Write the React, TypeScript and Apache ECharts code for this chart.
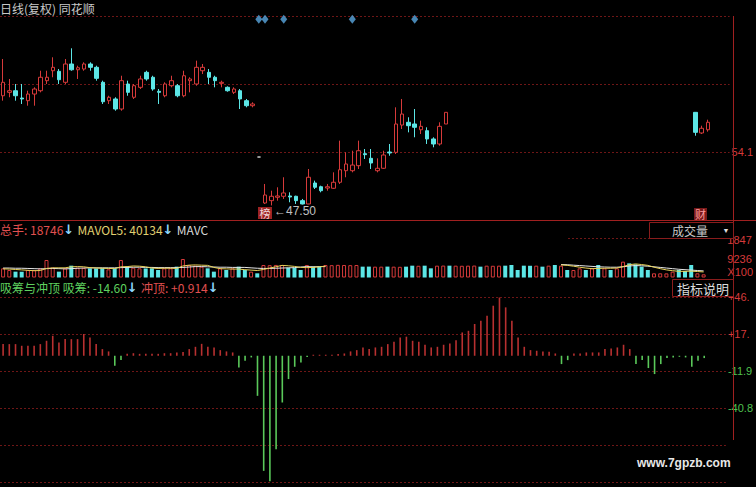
import React, { useEffect, useRef } from 'react';
import * as echarts from 'echarts';

// ---- data ----
const dayLabels: string[] = Array.from({ length: 117 }, (_, i) => 'D' + (i + 1));

// [open, close, low, high]; null = not drawn in the picture
const candles: (number[] | null)[] = [
  [61.05, 62.71, 60.44, 65.59], [61.47, 61.67, 60.86, 63.12], [61.67, 61.05, 60.44, 62.50], [60.77, 60.65, 60.03, 62.50],
  [60.44, 61.26, 59.82, 61.67], [61.26, 61.88, 59.82, 62.09], [61.67, 63.33, 61.47, 64.14], [62.91, 63.33, 62.50, 64.14],
  [64.14, 64.56, 63.33, 65.80], [64.07, 63.03, 62.50, 64.35], [62.71, 64.97, 62.50, 65.59], [64.97, 64.26, 64.14, 66.91],
  [64.26, 64.51, 63.12, 64.76], [64.35, 64.97, 64.14, 65.18], [64.97, 64.56, 64.14, 65.18], [64.56, 63.20, 62.91, 64.76],
  [62.71, 60.31, 60.03, 62.91], [60.44, 60.86, 60.03, 61.05], [60.65, 59.41, 59.20, 60.86], [59.41, 62.91, 59.20, 63.52],
  [62.50, 61.47, 61.05, 62.91], [60.86, 62.29, 60.65, 62.50], [62.09, 63.12, 61.88, 63.52], [63.94, 63.12, 62.91, 64.14],
  [63.33, 61.88, 61.67, 63.52], [61.60, 61.47, 60.03, 61.88], [61.05, 62.50, 60.86, 62.71], [62.29, 62.91, 62.09, 63.52],
  [62.29, 61.05, 60.86, 62.50], [61.05, 63.52, 60.86, 64.14], [62.91, 63.12, 61.47, 63.33], [62.50, 64.56, 62.29, 65.38],
  [64.14, 64.56, 63.73, 64.97], [63.94, 63.33, 62.50, 64.35], [63.33, 62.91, 62.09, 63.52], [62.58, 62.71, 62.09, 62.91],
  [62.09, 61.67, 61.55, 62.21], [61.47, 61.88, 61.26, 62.09], [61.67, 60.65, 59.41, 61.88], [60.44, 59.82, 59.62, 60.65],
  [59.82, 60.03, 59.62, 60.24], [53.48, 53.48, 53.48, 53.48], [47.80, 48.79, 47.68, 50.15], [48.09, 48.63, 47.50, 49.32],
  [48.51, 48.67, 48.09, 49.74], [48.63, 49.04, 48.30, 50.98], [48.67, 48.54, 47.89, 49.12], [48.63, 48.09, 47.68, 48.70],
  [48.09, 47.68, 47.62, 48.30], [47.68, 50.98, 47.65, 52.00], [50.27, 49.74, 49.53, 50.56], [49.81, 49.32, 49.12, 49.94],
  [49.65, 49.81, 49.32, 50.15], [49.62, 50.36, 49.53, 51.59], [50.36, 51.91, 50.15, 55.50], [51.79, 52.62, 50.98, 54.06],
  [51.79, 52.49, 51.59, 54.26], [52.41, 54.26, 52.00, 55.50], [53.89, 53.77, 53.24, 54.47], [53.32, 52.74, 52.00, 54.47],
  [51.79, 52.09, 51.59, 53.32], [52.09, 53.73, 52.00, 54.26], [54.10, 53.98, 53.64, 55.09], [54.06, 57.56, 53.85, 59.62],
  [57.43, 58.79, 56.94, 60.65], [57.77, 57.35, 56.53, 58.39], [57.56, 57.15, 55.92, 59.41], [56.85, 57.27, 56.32, 57.97],
  [56.73, 55.71, 55.09, 57.15], [55.71, 55.09, 54.68, 55.92], [55.09, 57.27, 54.88, 57.77], [57.56, 59.00, 57.56, 59.00],
  null, null, null, null, null, null, null, null, null, null,
  null, null, null, null, null, null, null, null, null, null,
  null, null, null, null, null, null, null, null, null, null,
  null, null, null, null, null, null, null, null, null,
  [59.00, 56.53, 56.11, 59.00], [56.45, 57.03, 56.32, 57.35], [56.85, 57.77, 56.61, 58.09],
];

const signalDays: number[] = [41, 42, 45, 56, 66];
const signalLevel = 70.5;

// volume (x100) and direction: 'u' = up (hollow red), 'd' = down (cyan)
const volume: number[] = [
  4460, 3650, 2840, 2800, 3650, 3600, 4460, 8510, 4780, 2840, 4460, 5750, 4780, 4700, 4460, 4400, 4500, 3970, 4460, 8510,
  5270, 4780, 4460, 4400, 4460, 3650, 4460, 4500, 5270, 8990, 6080, 5750, 5270, 4460, 2840, 4460, 3650, 4460, 5270, 3650,
  2840, 2030, 6080, 6000, 6100, 6080, 4780, 4700, 3650, 6080, 5270, 5200, 6080, 6000, 6150, 6080, 6000, 6080, 5270, 5300,
  5270, 5270, 5300, 5270, 5200, 5270, 5750, 5700, 5750, 4460, 5750, 5800, 5750, 5750, 5700, 5750, 5800, 5270, 5750, 5700,
  5750, 5750, 6080, 3650, 5750, 5700, 5750, 5270, 5750, 6080, 5750, 3650, 3650, 4460, 3650, 4460, 6080, 4460, 3650, 4460,
  7700, 6890, 6400, 5270, 3650, 2030, 2030, 2000, 2840, 3650, 3160, 6080, 2030, 1540,
];
const volumeDir: string[] = [
  'u', 'u', 'd', 'd', 'u', 'u', 'u', 'u', 'u', 'd', 'u', 'd', 'u', 'u', 'd', 'd', 'd', 'u', 'd', 'u',
  'd', 'u', 'u', 'd', 'd', 'd', 'u', 'u', 'd', 'u', 'u', 'u', 'u', 'd', 'd', 'u', 'd', 'u', 'd', 'd',
  'u', 'd', 'u', 'u', 'u', 'u', 'd', 'd', 'd', 'u', 'd', 'd', 'u', 'u', 'u', 'u', 'u', 'u', 'd', 'd',
  'u', 'u', 'd', 'u', 'u', 'd', 'd', 'u', 'd', 'd', 'u', 'u', 'd', 'u', 'u', 'u', 'u', 'd', 'u', 'u',
  'u', 'd', 'd', 'd', 'd', 'd', 'u', 'd', 'u', 'd', 'u', 'd', 'u', 'u', 'd', 'u', 'd', 'u', 'd', 'u',
  'u', 'd', 'd', 'd', 'd', 'u', 'u', 'u', 'u', 'd', 'd', 'd', 'u', 'u',
];
const mavol5: (number | null)[] = [
  4200, 4100, 3900, 3700, 3500, 3300, 3400, 4400, 4700, 4700, 4700, 5200, 5300, 5200, 4800, 4600, 4500, 4400, 4300, 5200,
  5300, 5600, 5500, 5200, 4600, 4400, 4500, 4500, 4400, 5600, 6000, 6100, 6000, 5900, 4900, 4300, 4200, 4100, 4100, 3800,
  3600, 3400, 3900, 4600, 5200, 5900, 5700, 5400, 4900, 4800, 4900, 5200, 5500,
  null, null, null, null, null, null, null, null, null, null, null, null, null, null, null, null, null, null, null, null,
  null, null, null, null, null, null, null, null, null, null, null, null, null, null, null, null, null,
  6100, 5900, 5500, 5000, 4600, 4300, 4400, 4500, 4500, 4600, 5300, 6200, 6600, 6300, 5900, 5000, 4300, 3700, 3300, 3000,
  3000, 3100, 2900, 2700,
];
const mavol10: (number | null)[] = [
  4600, 4600, 4500, 4500, 4400, 4300, 4200, 4300, 4400, 4300, 4200, 4300, 4500, 4600, 4700, 4700, 4700, 4700, 4700, 4800,
  4900, 5000, 5000, 4900, 4900, 4800, 4800, 4800, 4800, 4900, 5100, 5300, 5300, 5200, 5100, 5000, 5000, 4900, 4900, 4900,
  4700, 4500, 4400, 4400, 4500, 4600, 4700, 4800, 5100, 5300, 5200, 5300, 5300,
  null, null, null, null, null, null, null, null, null, null, null, null, null, null, null, null, null, null, null, null,
  null, null, null, null, null, null, null, null, null, null, null, null, null, null, null, null, null,
  6300, 6200, 6000, 5800, 5600, 5400, 5200, 5100, 5000, 5000, 5200, 5600, 5800, 5700, 5500, 5200, 4900, 4600, 4300, 4000,
  3800, 3600, 3400, 3200,
];

// 吸筹与冲顶 indicator
const indicator: number[] = [
  9.1, 9.1, 9.1, 7.8, 7.8, 7.8, 9.1, 11.7, 15.6, 10.4, 13.0, 13.0, 13.0, 17.0, 14.3, 9.1, 5.2, 3.4, -7.8, -3.4,
  1.5, 2.0, 1.5, 1.5, 1.5, 1.5, 2.0, 2.0, 2.6, 3.0, 5.2, 7.0, 9.3, 7.0, 6.5, 4.4, 3.4, 2.6, -9.1, -3.9,
  -1.3, -31.3, -89.9, -98.0, -73.0, -36.5, -18.2, -8.6,
  -5.2, -1.0, 0.8, 0.8, 0.8, 0.8, 1.3, 1.8, 3.4, 4.4, 6.5, 5.2, 6.5, 7.0, 9.1, 11.0, 14.3, 14.9, 11.7, 11.0,
  8.6, 6.5, 7.0, 8.6, 9.6, 12.2, 18.2, 19.5, 24.8, 27.4, 31.3, 39.1, 45.5, 37.8, 27.4, 14.3, 7.0, 4.4, 3.9, 3.4,
  3.1, 1.8, -6.5, -3.4, 1.8, 1.8, 2.6, 2.6,
  2.6, 5.2, 5.7, 6.5, 8.6, 5.2, -6.5, -3.4, -9.6, -14.3, -6.5, -1.8, -1.3, -0.8, -1.3, -8.6, -3.9, -1.8,
];

const priceTickLabels: Record<string, string> = { '54.1': '54.1' };
const volTickLabels: Record<string, string> = { '18472': '1847', '9236': '9236', '0': '{u|X100}' };
const indTickLabels: Record<string, string> = { '45.9': '+46.', '17': '+17.', '-11.9': '-11.9', '-40.8': '-40.8' };

const RED = '#d63a3a';
const CYAN = '#5ce6e6';
const GRID = '#6e1616';
const CJK = '"Noto Sans CJK SC", sans-serif';
const NUM = '"Liberation Sans", Arial, sans-serif';

export default function App() {
  const ref = useRef<HTMLDivElement>(null);
  useEffect(() => {
    if (!ref.current) return;
    const chart = echarts.init(ref.current, undefined, { renderer: 'svg' });
    const key = (v: number) => String(Math.round(v * 10) / 10);
    const option: any = {
      animation: false,
      backgroundColor: '#000',
      grid: [
        { left: 0, right: 23, top: 16, height: 204 },
        { left: 0, right: 23, top: 239.5, height: 38 },
        { left: 0, right: 23, top: 297, height: 185 },
      ],
      xAxis: [0, 1, 2].map((g) => ({
        type: 'category', gridIndex: g, data: dayLabels, boundaryGap: true,
        axisLine: { show: false }, axisTick: { show: false }, axisLabel: { show: false }, splitLine: { show: false },
      })),
      yAxis: [
        {
          gridIndex: 0, type: 'value', position: 'right', min: 45.7, max: 70.9, interval: 8.4,
          axisLine: { show: false }, axisTick: { show: false },
          axisLabel: { margin: 2, color: RED, fontSize: 11, fontFamily: NUM, formatter: (v: number) => priceTickLabels[key(v)] || '' },
          splitLine: { show: true, lineStyle: { color: GRID, type: [2, 2], width: 1 } },
        },
        {
          gridIndex: 1, type: 'value', position: 'right', min: 0, max: 18472, interval: 9236,
          axisLine: { show: false }, axisTick: { show: false },
          axisLabel: {
            margin: 2, color: RED, fontSize: 11, fontFamily: NUM,
            formatter: (v: number) => volTickLabels[String(Math.round(v))] || '',
            rich: { u: { color: RED, fontSize: 11, fontFamily: NUM, padding: [0, 0, 11, 0] } },
          },
          splitLine: { show: false },
        },
        {
          gridIndex: 2, type: 'value', position: 'right', min: -98.6, max: 45.9, interval: 28.9,
          axisLine: { show: false }, axisTick: { show: false },
          axisLabel: {
            margin: 2, fontSize: 11, fontFamily: NUM,
            color: (v: any) => (Number(v) >= 0 ? RED : '#4fc04f'),
            formatter: (v: number) => indTickLabels[key(v)] || '',
          },
          splitLine: { show: true, lineStyle: { color: GRID, type: [2, 2], width: 1 } },
        },
      ],
      series: [
        {
          type: 'candlestick', xAxisIndex: 0, yAxisIndex: 0, barWidth: 4,
          data: candles.map((c) => (c ? c : ['-', '-', '-', '-'])),
          itemStyle: { color: '#000', color0: CYAN, borderColor: RED, borderColor0: CYAN, borderColorDoji: '#cccccc', borderWidth: 1 },
        },
        {
          type: 'scatter', xAxisIndex: 0, yAxisIndex: 0, symbol: 'diamond', symbolSize: [7, 9],
          data: signalDays.map((d) => [d, signalLevel]), itemStyle: { color: '#5aa8e0' },
        },
        {
          type: 'bar', xAxisIndex: 1, yAxisIndex: 1, barWidth: 4,
          data: volume.map((v, i) => ({
            value: v,
            itemStyle: volumeDir[i] === 'u' ? { color: '#000', borderColor: RED, borderWidth: 1 } : { color: CYAN },
          })),
        },
        {
          type: 'line', xAxisIndex: 1, yAxisIndex: 1, data: mavol10, showSymbol: false, connectNulls: false,
          lineStyle: { color: '#e6e6e6', width: 1 },
        },
        {
          type: 'line', xAxisIndex: 1, yAxisIndex: 1, data: mavol5, showSymbol: false, connectNulls: false,
          lineStyle: { color: '#e8d25a', width: 1 },
        },
        {
          type: 'bar', xAxisIndex: 2, yAxisIndex: 2, barWidth: 1.6,
          data: indicator.map((v) => ({ value: v, itemStyle: { color: v >= 0 ? '#b83030' : '#5ac85a' } })),
        },
      ],
      graphic: [
        { type: 'text', x: 0, y: 2, z: 10, style: { text: '日线(复权) 同花顺', fill: '#c8c8c8', font: `12px ${CJK}` } },
        { type: 'line', z: 10, shape: { x1: 0, y1: 220.5, x2: 756, y2: 220.5 }, style: { stroke: '#a02020', lineWidth: 1 } },
        { type: 'line', z: 10, shape: { x1: 733.5, y1: 16, x2: 733.5, y2: 440 }, style: { stroke: '#a02020', lineWidth: 1 } },
        { type: 'line', z: 10, shape: { x1: 568, y1: 238.5, x2: 733, y2: 238.5 }, style: { stroke: GRID, lineWidth: 1, lineDash: [2, 2] } },
        {
          type: 'text', x: 0, y: 223, z: 10,
          style: {
            text: '{r|总手: 18746}{a|↓} {y|MAVOL5: 40134}{a|↓} {w|MAVC}',
            rich: {
              r: { fill: '#e05050', font: `12px ${CJK}` },
              y: { fill: '#e0d070', font: `12px ${CJK}` },
              w: { fill: '#d8d8d8', font: `12px ${CJK}` },
              a: { fill: '#8fd8ff', font: `bold 13px "DejaVu Sans", sans-serif` },
            },
          },
        },
        { type: 'rect', z: 10, shape: { x: 649.5, y: 222.5, width: 84, height: 16 }, style: { fill: '#000', stroke: '#8a1c1c', lineWidth: 1 } },
        { type: 'text', z: 11, x: 690, y: 230.5, style: { text: '成交量', fill: '#c8c8c8', font: `12px ${CJK}`, align: 'center', verticalAlign: 'middle' } },
        { type: 'text', z: 11, x: 726, y: 230, style: { text: '▼', fill: '#e0e0e0', font: `7px ${NUM}`, align: 'center', verticalAlign: 'middle' } },
        {
          type: 'text', x: 0, y: 281, z: 10,
          style: {
            text: '{g|吸筹与冲顶 吸筹: -14.60}{a|↓} {r|冲顶: +0.914}{a|↓}',
            rich: {
              g: { fill: '#5fd05f', font: `12px ${CJK}` },
              r: { fill: '#e05050', font: `12px ${CJK}` },
              a: { fill: '#8fd8ff', font: `bold 13px "DejaVu Sans", sans-serif` },
            },
          },
        },
        { type: 'rect', z: 10, shape: { x: 672.5, y: 279.5, width: 61, height: 17 }, style: { fill: '#000', stroke: '#8a1c1c', lineWidth: 1 } },
        { type: 'text', z: 11, x: 703, y: 288, style: { text: '指标说明', fill: '#dcdcdc', font: `13px ${CJK}`, align: 'center', verticalAlign: 'middle' } },
        { type: 'rect', z: 10, shape: { x: 258, y: 207, width: 14, height: 12 }, style: { fill: '#9c2222' } },
        { type: 'text', z: 11, x: 265, y: 213, style: { text: '榜', fill: '#f0d8d8', font: `11px ${CJK}`, align: 'center', verticalAlign: 'middle' } },
        { type: 'text', z: 11, x: 274, y: 211, style: { text: '←47.50', fill: '#c0c0c0', font: `12px ${NUM}`, verticalAlign: 'middle' } },
        { type: 'rect', z: 10, shape: { x: 694, y: 208, width: 13, height: 12 }, style: { fill: '#7a1a1a' } },
        { type: 'text', z: 11, x: 700.5, y: 214, style: { text: '财', fill: '#ff9a9a', font: `11px ${CJK}`, align: 'center', verticalAlign: 'middle' } },
        { type: 'text', z: 11, x: 637, y: 463, style: { text: 'www.7gpzb.com', fill: '#e8e8e8', font: `bold 12px ${NUM}`, verticalAlign: 'middle' } },
      ],
    };
    chart.setOption(option);
    return () => chart.dispose();
  }, []);
  return <div ref={ref} style={{ position: 'absolute', left: 0, top: 0, width: 756, height: 487, background: '#000' }} />;
}
